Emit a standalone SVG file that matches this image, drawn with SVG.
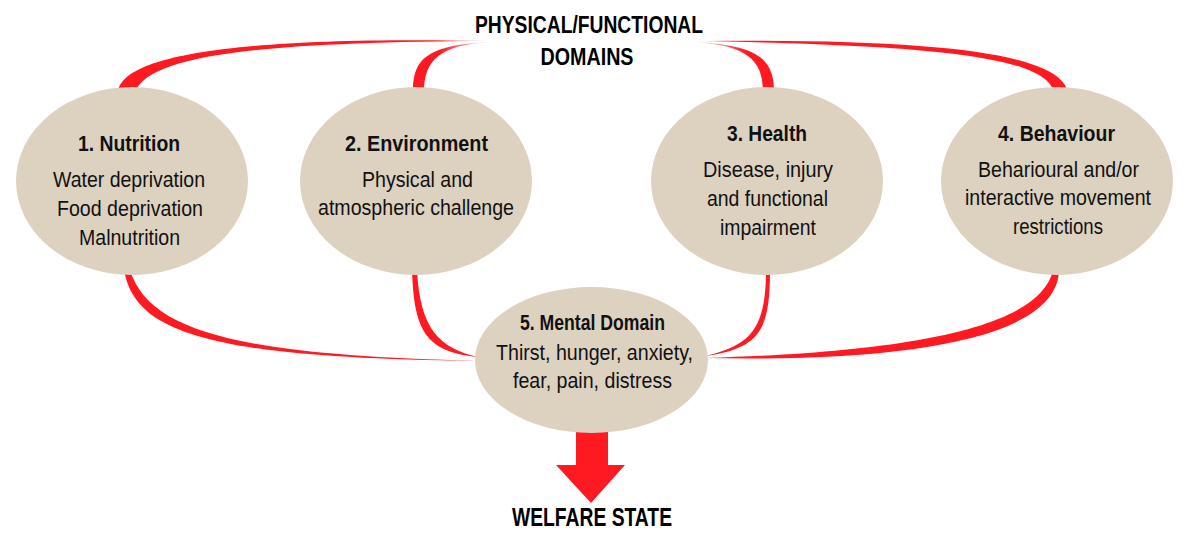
<svg xmlns="http://www.w3.org/2000/svg" width="1189" height="539" viewBox="0 0 1189 539">
<style>
.node{fill:#DDD2C0}
.red{fill:#FF1A22}
.t{font-family:"Liberation Sans",Arial,sans-serif;font-size:22px;fill:#111;text-anchor:middle}
.b{font-weight:bold}
.h{font-family:"Liberation Sans",Arial,sans-serif;font-weight:bold;fill:#000;text-anchor:middle}
</style>
<defs>
<linearGradient id="fadeL" gradientUnits="userSpaceOnUse" x1="440" y1="0" x2="492" y2="0">
<stop offset="0" stop-color="#FF1A22"/><stop offset="1" stop-color="#FF1A22" stop-opacity="0.1"/>
</linearGradient>
<linearGradient id="fadeR" gradientUnits="userSpaceOnUse" x1="745" y1="0" x2="692" y2="0">
<stop offset="0" stop-color="#FF1A22"/><stop offset="1" stop-color="#FF1A22" stop-opacity="0.1"/>
</linearGradient>
</defs>
<g id="connectors">
<path fill="url(#fadeL)" d="M118,92 C122,55 240,36 490,41 C260,42 150,55 135,92 Z"/>
<path fill="url(#fadeL)" d="M413,92 C413,60 425,45 490,42 C440,45 424,60 424,92 Z"/>
<path fill="url(#fadeR)" d="M774,92 C774,60 760,45 693,42 C747,45 763,60 763,92 Z"/>
<path fill="url(#fadeR)" d="M1068,92 C1060,55 950,38 693,41 C960,45 1045,60 1054,92 Z"/>
<path class="red" d="M124,270 C135,330 200,358 478,361 C250,355 150,335 130,270 Z"/>
<path class="red" d="M412,270 C414,330 425,352 478,357 C440,348 420,330 417,270 Z"/>
<path class="red" d="M770,270 C770,330 760,348 706,356 C750,345 766,330 766,270 Z"/>
<path class="red" d="M1053,270 C1040,330 900,352 706,358 C900,362 1058,340 1059,270 Z"/>
<polygon class="red" points="576,425 608,425 608,465 625,465 591,503 556,465 576,465"/>
</g>
<g id="title">
<text class="h" x="589" y="33" font-size="24" textLength="228" lengthAdjust="spacingAndGlyphs">PHYSICAL/FUNCTIONAL</text>
<text class="h" x="587" y="65" font-size="24" textLength="93" lengthAdjust="spacingAndGlyphs">DOMAINS</text>
</g>
<g id="node1">
<ellipse class="node" cx="132" cy="181" rx="116" ry="94"/>
<text class="t b" x="129" y="151" textLength="102" lengthAdjust="spacingAndGlyphs">1. Nutrition</text>
<text class="t" x="129" y="187" textLength="152" lengthAdjust="spacingAndGlyphs">Water deprivation</text>
<text class="t" x="130" y="216" textLength="146" lengthAdjust="spacingAndGlyphs">Food deprivation</text>
<text class="t" x="129.5" y="245" textLength="101" lengthAdjust="spacingAndGlyphs">Malnutrition</text>
</g>
<g id="node2">
<ellipse class="node" cx="416" cy="181" rx="116" ry="94"/>
<text class="t b" x="416.5" y="151" textLength="143" lengthAdjust="spacingAndGlyphs">2. Environment</text>
<text class="t" x="417.5" y="187" textLength="111" lengthAdjust="spacingAndGlyphs">Physical and</text>
<text class="t" x="416" y="215" textLength="196" lengthAdjust="spacingAndGlyphs">atmospheric challenge</text>
</g>
<g id="node3">
<ellipse class="node" cx="767" cy="181" rx="116" ry="94"/>
<text class="t b" x="767" y="141" textLength="80" lengthAdjust="spacingAndGlyphs">3. Health</text>
<text class="t" x="768" y="177" textLength="130" lengthAdjust="spacingAndGlyphs">Disease, injury</text>
<text class="t" x="767.5" y="206" textLength="121" lengthAdjust="spacingAndGlyphs">and functional</text>
<text class="t" x="768" y="235" textLength="96" lengthAdjust="spacingAndGlyphs">impairment</text>
</g>
<g id="node4">
<ellipse class="node" cx="1057" cy="181" rx="116" ry="94"/>
<text class="t b" x="1056.5" y="141" textLength="117" lengthAdjust="spacingAndGlyphs">4. Behaviour</text>
<text class="t" x="1058.5" y="177" textLength="161" lengthAdjust="spacingAndGlyphs">Beharioural and/or</text>
<text class="t" x="1058" y="205" textLength="186" lengthAdjust="spacingAndGlyphs">interactive movement</text>
<text class="t" x="1058" y="234" textLength="90" lengthAdjust="spacingAndGlyphs">restrictions</text>
</g>
<g id="node5">
<ellipse class="node" cx="591.5" cy="360" rx="116.5" ry="73"/>
<text class="t b" x="592.5" y="330" textLength="145" lengthAdjust="spacingAndGlyphs">5. Mental Domain</text>
<text class="t" x="594.5" y="360" textLength="197" lengthAdjust="spacingAndGlyphs">Thirst, hunger, anxiety,</text>
<text class="t" x="592.5" y="388" textLength="159" lengthAdjust="spacingAndGlyphs">fear, pain, distress</text>
</g>
<g id="output">
<text class="h" x="592" y="526" font-size="25" textLength="160" lengthAdjust="spacingAndGlyphs">WELFARE STATE</text>
</g>
</svg>
